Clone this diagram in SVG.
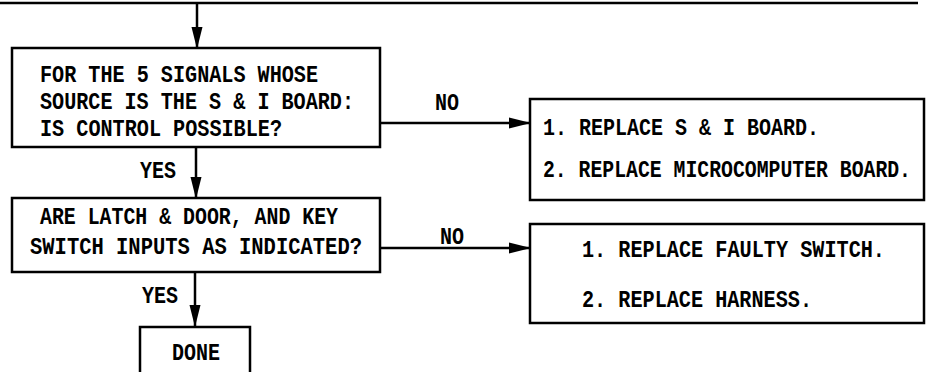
<svg xmlns="http://www.w3.org/2000/svg" width="926" height="372" viewBox="0 0 926 372">
<defs>
<style>
.box{fill:#fff;stroke:#000;stroke-width:2.5}
.ln{fill:none;stroke:#000;stroke-width:2.5}
text{font-family:"Liberation Mono","DejaVu Sans Mono",monospace;font-size:23px;fill:#000;font-weight:bold}
</style>
<marker id="ah" markerWidth="22" markerHeight="12" refX="21" refY="6" orient="auto" markerUnits="userSpaceOnUse">
<path d="M0,0.5 L22,6 L0,11.5 Z" fill="#000"/>
</marker>
</defs>
<g id="connectors">
<line class="ln" x1="0" y1="3" x2="918" y2="3"/>
<line class="ln" x1="197" y1="3" x2="197" y2="48" marker-end="url(#ah)"/>
<line class="ln" x1="196" y1="147" x2="196" y2="198" marker-end="url(#ah)"/>
<line class="ln" x1="380" y1="123" x2="530" y2="123" marker-end="url(#ah)"/>
<text x="435" y="110" textLength="24" lengthAdjust="spacingAndGlyphs">NO</text>
<text x="140" y="178" textLength="36" lengthAdjust="spacingAndGlyphs">YES</text>
<line class="ln" x1="195" y1="272" x2="195" y2="326" marker-end="url(#ah)"/>
<line class="ln" x1="380" y1="248" x2="530" y2="248" marker-end="url(#ah)"/>
<text x="440" y="244" textLength="24" lengthAdjust="spacingAndGlyphs">NO</text>
<text x="142" y="303" textLength="36" lengthAdjust="spacingAndGlyphs">YES</text>
</g>
<g id="q1">
<rect class="box" x="12" y="48" width="368" height="99"/>
<text x="40" y="82" textLength="278" lengthAdjust="spacingAndGlyphs">FOR THE 5 SIGNALS WHOSE</text>
<text x="40" y="109" textLength="314" lengthAdjust="spacingAndGlyphs">SOURCE IS THE S &amp; I BOARD:</text>
<text x="40" y="136" textLength="242" lengthAdjust="spacingAndGlyphs">IS CONTROL POSSIBLE?</text>
</g>
<g id="a1">
<rect class="box" x="530" y="99" width="394" height="101"/>
<text x="543" y="135" textLength="276" lengthAdjust="spacingAndGlyphs">1. REPLACE S &amp; I BOARD.</text>
<text x="543" y="177" textLength="368" lengthAdjust="spacingAndGlyphs">2. REPLACE MICROCOMPUTER BOARD.</text>
</g>
<g id="q2">
<rect class="box" x="12" y="198" width="368" height="74"/>
<text x="40" y="224" textLength="298" lengthAdjust="spacingAndGlyphs">ARE LATCH &amp; DOOR, AND KEY</text>
<text x="30" y="254" textLength="332" lengthAdjust="spacingAndGlyphs">SWITCH INPUTS AS INDICATED?</text>
</g>
<g id="a2">
<rect class="box" x="530" y="224" width="394" height="99"/>
<text x="582" y="257" textLength="303" lengthAdjust="spacingAndGlyphs">1. REPLACE FAULTY SWITCH.</text>
<text x="582" y="307" textLength="230" lengthAdjust="spacingAndGlyphs">2. REPLACE HARNESS.</text>
</g>
<g id="done">
<rect class="box" x="140" y="327" width="110" height="60"/>
<text x="172" y="360" textLength="48" lengthAdjust="spacingAndGlyphs">DONE</text>
</g>
</svg>
